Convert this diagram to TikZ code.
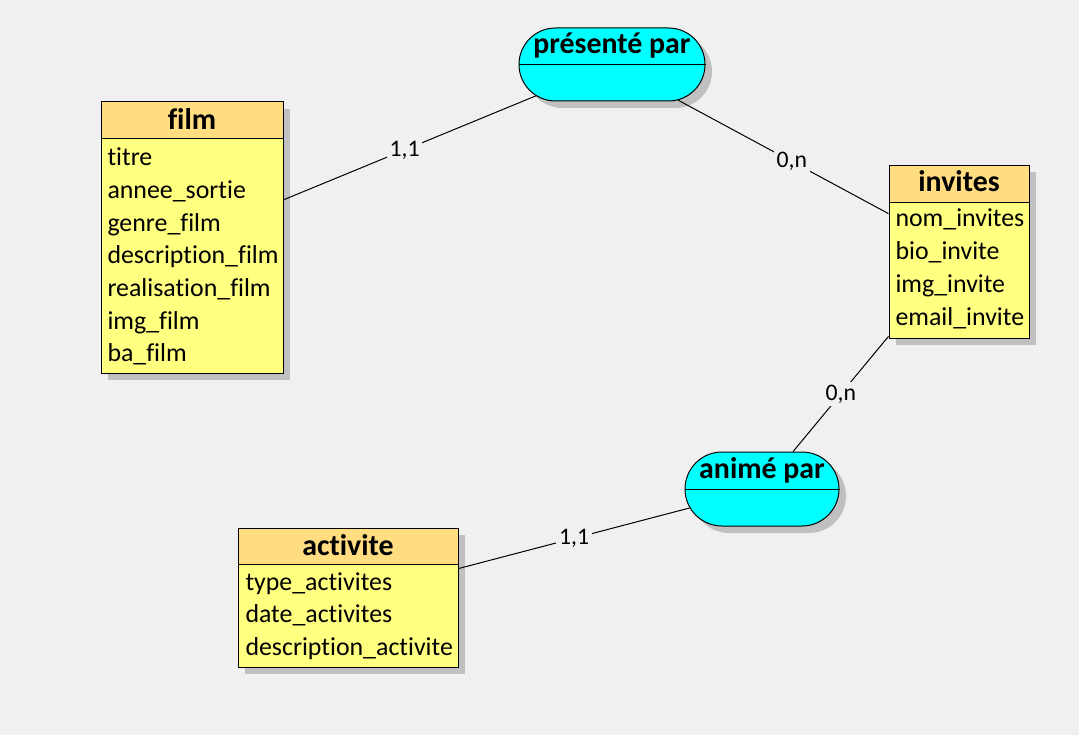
\documentclass[tikz,border=0pt]{standalone}
\usepackage{fontspec}
\setmainfont{Carlito}[Ligatures=NoCommon]
\usetikzlibrary{fit,shapes.misc}

\definecolor{fond}{RGB}{240,240,240}
\definecolor{gris}{RGB}{192,192,192}
\definecolor{jauneentete}{RGB}{255,221,128}
\definecolor{jaunecorps}{RGB}{255,255,128}
\definecolor{cyanasso}{RGB}{0,255,255}

\tikzset{every picture/.style={line width=0.75pt}}
\tikzset{
  ombre/.style={fill=gris},
  corps/.style={draw, fill=jaunecorps, inner sep=0pt},
  entete/.style={draw, fill=jauneentete, inner sep=0pt},
  assoc/.style={rounded rectangle, draw, fill=cyanasso, inner sep=0pt},
  nomtable/.style={anchor=base, inner sep=0pt, font=\bfseries\fontsize{22.4}{26}\selectfont},
  champ/.style={anchor=base west, inner sep=0pt, font=\fontsize{19.4}{23}\selectfont},
  card/.style={fill=fond, inner sep=2pt, font=\fontsize{17.8}{21}\selectfont},
}

\begin{document}
\begin{tikzpicture}[x=0.75pt,y=0.75pt,yscale=-1,xscale=1]
	%background
	\fill[fond] (0,0) rectangle (1079,735);
	
	%Shadows
	\fill[ombre] (108,109) rectangle (290,380);
	\fill[ombre] (896,172) rectangle (1036,345);
	\fill[ombre] (245,535) rectangle (465,674);
	\node[assoc, ombre, draw=none, minimum width=139.5pt, minimum height=54.75pt] at (619,71.5) {};
	\node[assoc, ombre, draw=none, minimum width=115.5pt, minimum height=55.5pt] at (769,496) {};
	
	%Entity: film
	\node[corps, fit={(101,102) (283,373)}] (film) {};
	\node[entete, fit={(101,102) (283,139)}] (film-tete) {};
	\node[nomtable] at (192,130) {film};
	\node[champ] (film-1) at (107,166) {titre};
	\node[champ] (film-2) at (107,198.6) {annee\_sortie};
	\node[champ] (film-3) at (107,231.2) {genre\_film};
	\node[champ] (film-4) at (107,263.8) {description\_film};
	\node[champ] (film-5) at (107,296.4) {realisation\_film};
	\node[champ] (film-6) at (107,329) {img\_film};
	\node[champ] (film-7) at (107,361.6) {ba\_film};
	
	%Entity: invites
	\node[corps, fit={(889,165) (1029,338)}] (invites) {};
	\node[entete, fit={(889,165) (1029,202)}] (invites-tete) {};
	\node[nomtable] at (959,191.7) {invites};
	\node[champ] (invites-1) at (895,226.7) {nom\_invites};
	\node[champ] (invites-2) at (895,259.7) {bio\_invite};
	\node[champ] (invites-3) at (895,292.7) {img\_invite};
	\node[champ] (invites-4) at (895,325.7) {email\_invite};
	
	%Entity: activite
	\node[corps, fit={(238,528) (458,667)}] (activite) {};
	\node[entete, fit={(238,528) (458,564)}] (activite-tete) {};
	\node[nomtable] at (348,555) {activite};
	\node[champ] (activite-1) at (245,590.7) {type\_activites};
	\node[champ] (activite-2) at (245,622.9) {date\_activites};
	\node[champ] (activite-3) at (245,655) {description\_activite};
	
	%Association: présenté par
	\node[assoc, minimum width=139.5pt, minimum height=54.75pt] (presente) at (612,64.5) {};
	\draw (presente.west) -- (presente.east);
	\node[nomtable] at (612,53.3) {présenté par};
	
	%Association: animé par
	\node[assoc, minimum width=115.5pt, minimum height=55.5pt] (anime) at (762,489) {};
	\draw (anime.west) -- (anime.east);
	\node[nomtable] at (762,478.3) {animé par};
	
	%Links
	\draw (film) -- (presente) node[card, pos=0.48] {1,1};
	\draw (presente) -- (invites) node[card, pos=0.54] {0,n};
	\draw (invites) -- (anime) node[card, pos=0.5] {0,n};
	\draw (anime) -- (activite) node[card, pos=0.5] {1,1};
	
\end{tikzpicture}
\end{document}
